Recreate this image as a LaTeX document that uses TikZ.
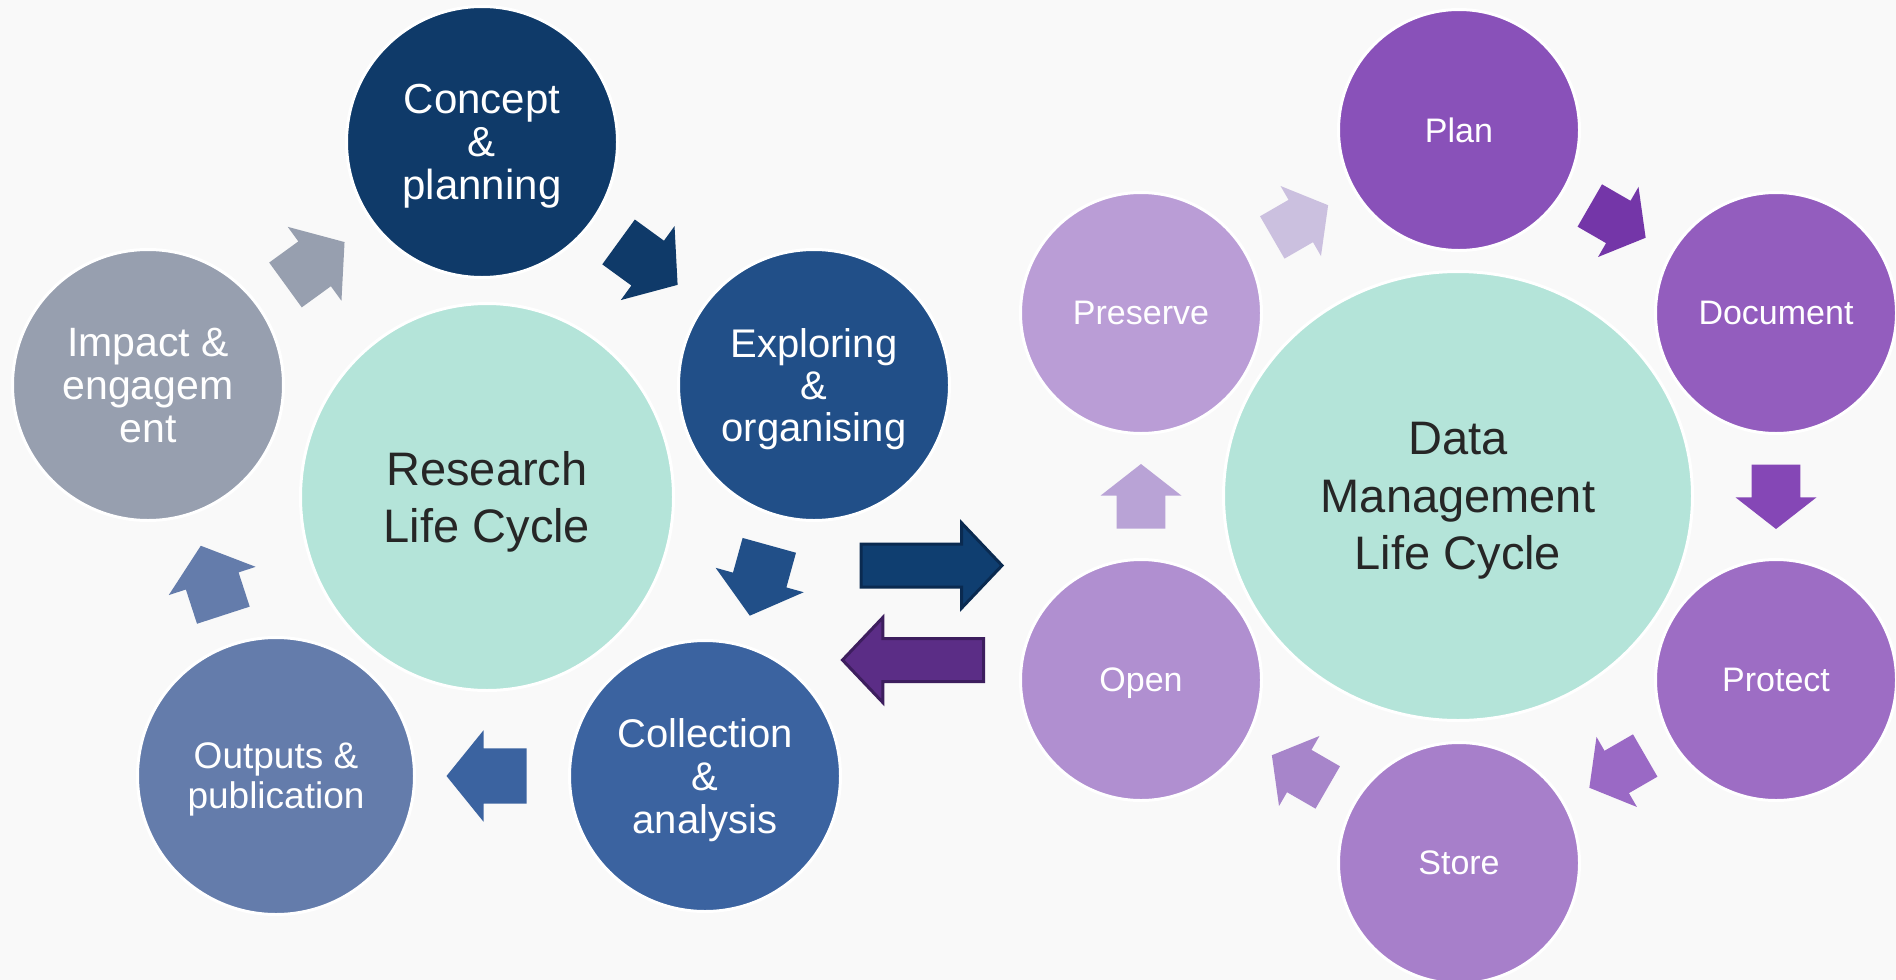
\documentclass[tikz,border=0pt]{standalone}
\usepackage{fontspec}
\setmainfont{Liberation Sans}
\usetikzlibrary{shapes.geometric, shapes.arrows, calc}

\definecolor{paper}{HTML}{F9F9F9}
\definecolor{hubgreen}{HTML}{B4E4D9}
\definecolor{hubtext}{HTML}{262626}
% research cycle
\definecolor{conceptblue}{HTML}{0F3A69}
\definecolor{exploreblue}{HTML}{214F88}
\definecolor{collectblue}{HTML}{3B63A0}
\definecolor{outputsblue}{HTML}{647CAB}
\definecolor{impactgray}{HTML}{979FAF}
% data cycle
\definecolor{planpurple}{HTML}{8951B9}
\definecolor{docpurple}{HTML}{935DBE}
\definecolor{protectpurple}{HTML}{9D6DC4}
\definecolor{storepurple}{HTML}{A77FCA}
\definecolor{openpurple}{HTML}{B08FD0}
\definecolor{preservepurple}{HTML}{BA9DD6}
% bridge arrows
\definecolor{bridgeblue}{HTML}{0F3E70}
\definecolor{bridgeblueline}{HTML}{0A2A50}
\definecolor{bridgepurple}{HTML}{5B2D86}
\definecolor{bridgepurpleline}{HTML}{3D1E5E}

\begin{document}
\begin{tikzpicture}[
        x = 1pt, y = -1pt,
        hub/.style = {ellipse, fill=hubgreen, draw=white, line width=3pt, inner sep=0pt,
            text=hubtext, align=center, text depth=0pt, font=\fontsize{47}{57.5}\selectfont},
        stage/.style = {circle, draw=white, line width=3pt, minimum size=271pt, inner sep=0pt,
            text=white, align=center, text depth=0pt},
        dstage/.style = {stage, minimum size=241pt, font=\fontsize{34}{40}\selectfont},
        larr/.style = {single arrow, single arrow head extend=18pt, single arrow tip angle=102,
            minimum height=73pt, inner xsep=0pt, inner ysep=27.5pt, outer sep=0pt, anchor=tail},
        rarr/.style = {larr, single arrow head extend=16pt, single arrow tip angle=104,
            minimum height=64.5pt, inner ysep=24.25pt},
        bigarr/.style = {larr, single arrow head extend=21pt, single arrow tip angle=93,
            minimum height=141pt, inner ysep=20pt, line width=3pt}
    ]
    \useasboundingbox (0,0) rectangle (1896,980);
    \fill[paper] (0,0) rectangle (1896,980);
    %--- Research Life Cycle ---%
        \node (research) [hub, minimum width=373pt, minimum height=387pt] at (487,497) {Research\\Life Cycle};
        \node (concept) [stage, fill=conceptblue, font=\fontsize{42}{43}\selectfont] at (482,142) {Concept\\\&\\planning};
        \node (explore) [stage, fill=exploreblue, font=\fontsize{40}{42}\selectfont] at (814,385) {Exploring\\\&\\organising};
        \node (collect) [stage, fill=collectblue, font=\fontsize{40}{43}\selectfont] at (705,776) {Collection\\\&\\analysis};
        \node (outputs) [stage, fill=outputsblue, minimum size=277pt, font=\fontsize{37}{40}\selectfont] at (276,776) {Outputs \&\\publication};
        \node (impact) [stage, fill=impactgray, font=\fontsize{41}{43}\selectfont] at (148,385) {Impact \&\\engagem\\ent};
        %--- Research arrows ---%
        \node (a1) [larr, fill=impactgray, rotate=36] at ($(impact)!0.5!(concept)!36.5pt!(impact)$) {};
        \node (a2) [larr, fill=conceptblue, rotate=-36] at ($(concept)!0.5!(explore)!36.5pt!(concept)$) {};
        \node (a3) [larr, fill=exploreblue, rotate=-105.5] at ($(explore)!0.5!(collect)!36.5pt!(explore)$) {};
        \node (a4) [larr, fill=collectblue, rotate=180, minimum height=80pt] at ($(collect)!0.5!(outputs)!36pt!(collect)$) {};
        \node (a5) [larr, fill=outputsblue, rotate=108] at ($(outputs)!0.5!(impact)!36.5pt!(outputs)$) {};
    %--- Data Management Life Cycle ---%
        \node (dmlc) [hub, minimum width=469pt, minimum height=449pt] at (1458,496) {Data\\Management\\Life Cycle};
        \node (plan) [dstage, fill=planpurple] at (1459,130) {Plan};
        \node (docu) [dstage, fill=docpurple] at (1776,313) {Document};
        \node (protect) [dstage, fill=protectpurple] at (1776,680) {Protect};
        \node (store) [dstage, fill=storepurple] at (1459,863) {Store};
        \node (open) [dstage, fill=openpurple] at (1141,680) {Open};
        \node (preserve) [dstage, fill=preservepurple] at (1141,313) {Preserve};
        %--- Data arrows ---%
        \node (b1) [rarr, fill={rgb,255:red,116;green,54;blue,168}, rotate=-30] at ($(plan)!0.5!(docu)!32pt!(plan)$) {};
        \node (b2) [rarr, fill={rgb,255:red,133;green,71;blue,182}, rotate=-90] at ($(docu)!0.5!(protect)!32pt!(docu)$) {};
        \node (b3) [rarr, fill={rgb,255:red,154;green,105;blue,197}, rotate=-150] at ($(protect)!0.5!(store)!32pt!(protect)$) {};
        \node (b4) [rarr, fill={rgb,255:red,167;green,133;blue,202}, rotate=150] at ($(store)!0.5!(open)!32pt!(store)$) {};
        \node (b5) [rarr, fill={rgb,255:red,185;green,163;blue,214}, rotate=90] at ($(open)!0.5!(preserve)!32pt!(open)$) {};
        \node (b6) [rarr, fill={rgb,255:red,203;green,192;blue,223}, rotate=30] at ($(preserve)!0.5!(plan)!32pt!(preserve)$) {};
    %--- Bridge arrows ---%
        \node (toData) [bigarr, fill=bridgeblue, draw=bridgeblueline] at (861,565.5) {};
        \node (toResearch) [bigarr, fill=bridgepurple, draw=bridgepurpleline, rotate=180] at (983.5,660) {};
\end{tikzpicture}
\end{document}
